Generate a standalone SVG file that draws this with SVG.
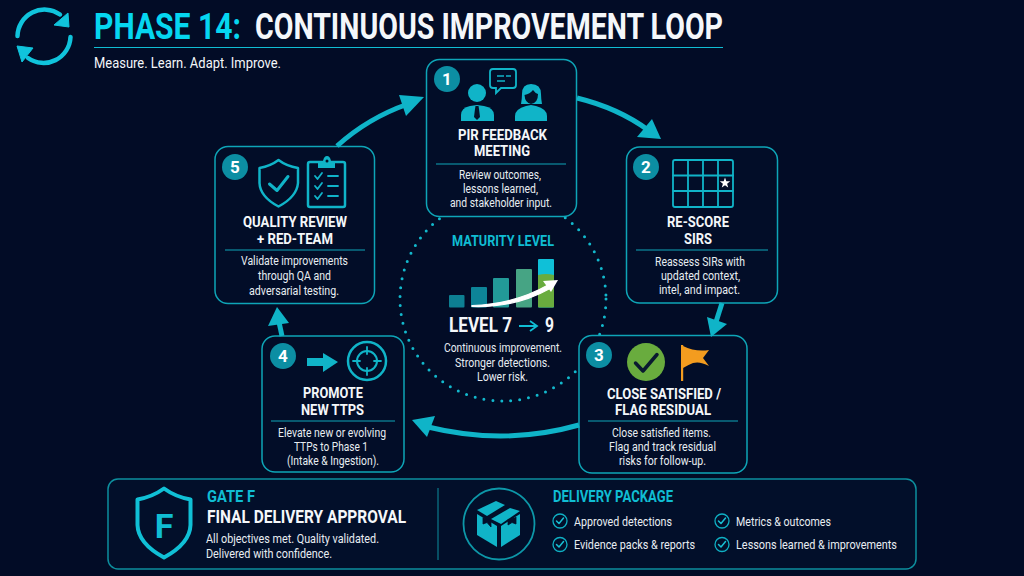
<svg xmlns="http://www.w3.org/2000/svg" width="1024" height="576" viewBox="0 0 1024 576">
<style>
text{font-family:Roboto,"Liberation Sans",sans-serif;fill:#f4f7fa}
.h{font-weight:700;font-size:15.5px}
.b{font-size:12.5px;fill:#e8edf2}
.c{fill:#10bdd3}
.card{fill:#020d28;stroke:#0ea5b7;stroke-width:1.5}
.rule{stroke:#0ea5b7;stroke-width:1.2}
.badge{fill:#0c8ea3}
.num{font-weight:700;font-size:17px;fill:#fff;text-anchor:middle}
.ic{fill:none;stroke:#10b4c8;stroke-width:2.5;stroke-linejoin:round;stroke-linecap:round}
.if{fill:#10b4c8}
.conn{fill:none;stroke:#0fb4c8;stroke-width:5}
.head{fill:#0fb4c8}
.ck{fill:none;stroke:#0fb0c4;stroke-width:1.3}
.ckm{fill:none;stroke:#18c0d4;stroke-width:1.5;stroke-linecap:round;stroke-linejoin:round}
.d{font-size:13px;fill:#e8edf2}
</style>
<rect width="1024" height="576" fill="#020c26"/>

<g id="header">
<g fill="none" stroke="#10c4dc" stroke-width="4.500" stroke-linecap="round">
<path d="M17.500 36A27 27 0 0 1 60 14.500"/>
<path d="M70.500 37A27 27 0 0 1 28 58"/>
</g>
<polygon points="68,13 69,27 54,25" fill="#10c4dc" stroke="#10c4dc" stroke-linejoin="round"/>
<polygon points="17,46 33,48 22,62" fill="#10c4dc" stroke="#10c4dc" stroke-linejoin="round"/>
<text x="94" y="39" font-size="36" font-weight="700" textLength="147" lengthAdjust="spacingAndGlyphs" style="fill:#05d6f0">PHASE 14:</text>
<text x="255" y="39" font-size="36" font-weight="700" textLength="468" lengthAdjust="spacingAndGlyphs">CONTINUOUS IMPROVEMENT LOOP</text>
<line x1="94" y1="47.500" x2="723" y2="47.500" stroke="#10bdd3" stroke-width="1"/>
<text x="94" y="68" font-size="15" textLength="187" lengthAdjust="spacingAndGlyphs">Measure. Learn. Adapt. Improve.</text>
</g>

<g id="maturity">
<ellipse cx="503" cy="299" rx="103" ry="102" fill="none" stroke="#12b8cc" stroke-width="3" stroke-linecap="round" stroke-dasharray="0 9"/>
<text class="c" x="452" y="246" font-size="15" font-weight="700" textLength="102" lengthAdjust="spacingAndGlyphs">MATURITY LEVEL</text>
<rect x="449" y="295" width="15.500" height="12.500" rx="1" fill="#0d7f92"/>
<rect x="471" y="287" width="16" height="20.500" rx="1" fill="#0d8498"/>
<rect x="493" y="278" width="16" height="29.500" rx="1" fill="#229a98"/>
<rect x="516" y="269" width="16" height="38.500" rx="1" fill="#46a484"/>
<rect x="538" y="259" width="16" height="48.500" rx="1" fill="#0fc0d8"/>
<path d="M538 275Q546 273 554 275V306.500a1 1 0 0 1-1 1H539a1 1 0 0 1-1-1Z" fill="#69ac3e"/>
<path d="M472 305.500Q515 304 548 285L549 289Q515 308 472 306.500Z" fill="#fff" stroke="#fff" stroke-width="1.200"/>
<polygon points="558,280 551,292 543,281" fill="#fff"/>
<text x="449" y="332" font-size="20" font-weight="700" textLength="63" lengthAdjust="spacingAndGlyphs">LEVEL 7</text>
<path d="M519 326H536M530 321L537 326L530 331" fill="none" stroke="#10bdd3" stroke-width="1.800"/>
<text x="545" y="332" font-size="20" font-weight="700" textLength="9" lengthAdjust="spacingAndGlyphs">9</text>
<text class="b" x="444" y="352" textLength="118" lengthAdjust="spacingAndGlyphs">Continuous improvement.</text>
<text class="b" x="455" y="367" textLength="95" lengthAdjust="spacingAndGlyphs">Stronger detections.</text>
<text class="b" x="477" y="381" textLength="51" lengthAdjust="spacingAndGlyphs">Lower risk.</text>
</g>

<g id="node1">
<rect class="card" x="426.500" y="59.500" width="150" height="157" rx="13"/>
<circle class="badge" cx="447" cy="79" r="13"/><text class="num" x="447" y="85">1</text>
<circle class="if" cx="477" cy="93" r="9"/>
<path class="if" d="M461 121V115Q461 108 470 106L477 105L484 106Q494 108 494 115V121Z"/>
<path d="M475.500 106H478.500L479 109L480 117L477 120L474 117L475 109Z" fill="#031228"/>
<path class="if" d="M521 104Q522 98 522 94Q522 84 531 84Q541 84 541 94Q541 98 542 104Z"/>
<path d="M524.500 95Q530 94 533 90Q535 93 538 94Q538 103 531 104Q525 103 524.500 95Z" fill="#031228"/>
<path class="if" d="M515 121V116Q515 109 526 106L531 105L536 106Q547 109 547 116V121Z"/>
<path d="M493 69H513Q516 69 516 72V85Q516 88 513 88H501L496 93V88H493Q490 88 490 85V72Q490 69 493 69Z" fill="none" stroke="#10b4c8" stroke-width="1.800"/>
<path d="M497 76H504M506 76H511M497 81H505" stroke="#10b4c8" stroke-width="1.500"/>
<text class="h" x="458" y="140" textLength="89" lengthAdjust="spacingAndGlyphs">PIR FEEDBACK</text>
<text class="h" x="474" y="156" textLength="56" lengthAdjust="spacingAndGlyphs">MEETING</text>
<line class="rule" x1="436" y1="164" x2="566" y2="164"/>
<text class="b" x="459" y="179" textLength="82" lengthAdjust="spacingAndGlyphs">Review outcomes,</text>
<text class="b" x="463" y="193" textLength="75" lengthAdjust="spacingAndGlyphs">lessons learned,</text>
<text class="b" x="450" y="207" textLength="102" lengthAdjust="spacingAndGlyphs">and stakeholder input.</text>
</g>

<g id="node2">
<rect class="card" x="626.500" y="147" width="151" height="156" rx="13"/>
<circle class="badge" cx="646" cy="167" r="13"/><text class="num" x="646" y="173">2</text>
<rect class="ic" x="673" y="160" width="60" height="47" rx="2" style="stroke-width:1.800"/>
<path class="ic" d="M688 160V207M703 160V207M718 160V207M673 175.500H733M673 191H733" style="stroke-width:1.800"/>
<polygon points="725,177.500 726.300,181.200 730.200,181.300 727.100,183.700 728.200,187.400 725,185.200 721.800,187.400 722.900,183.700 719.800,181.300 723.700,181.200" fill="#fff"/>
<text class="h" x="667" y="227" textLength="62" lengthAdjust="spacingAndGlyphs">RE-SCORE</text>
<text class="h" x="684" y="244" textLength="28" lengthAdjust="spacingAndGlyphs">SIRS</text>
<line class="rule" x1="636" y1="250" x2="768" y2="250"/>
<text class="b" x="655" y="266" textLength="90" lengthAdjust="spacingAndGlyphs">Reassess SIRs with</text>
<text class="b" x="661" y="280" textLength="79" lengthAdjust="spacingAndGlyphs">updated context,</text>
<text class="b" x="659" y="294" textLength="81" lengthAdjust="spacingAndGlyphs">intel, and impact.</text>
</g>

<g id="node3">
<rect class="card" x="579" y="335.500" width="168" height="137.500" rx="13"/>
<circle class="badge" cx="599" cy="355" r="13"/><text class="num" x="599" y="361">3</text>
<circle cx="646" cy="362" r="19" fill="#69ac3e"/>
<path d="M635.500 363L643 371L657 354.500" fill="none" stroke="#0a1a30" stroke-width="3.500" stroke-linecap="round" stroke-linejoin="round"/>
<rect x="681" y="345" width="2.200" height="36" fill="#f39c1f"/>
<path d="M683 346Q695 352 709 350L703 358L709 366Q700 361 693 363Q688 365 683 368Z" fill="#f39c1f"/>
<text class="h" x="607" y="399" textLength="114" lengthAdjust="spacingAndGlyphs">CLOSE SATISFIED /</text>
<text class="h" x="615" y="415" textLength="96" lengthAdjust="spacingAndGlyphs">FLAG RESIDUAL</text>
<line class="rule" x1="588" y1="421" x2="738" y2="421"/>
<text class="b" x="612" y="437" textLength="99" lengthAdjust="spacingAndGlyphs">Close satisfied items.</text>
<text class="b" x="609" y="451" textLength="107" lengthAdjust="spacingAndGlyphs">Flag and track residual</text>
<text class="b" x="619" y="465" textLength="87" lengthAdjust="spacingAndGlyphs">risks for follow-up.</text>
</g>

<g id="node4">
<rect class="card" x="262" y="336" width="142" height="136" rx="13"/>
<circle class="badge" cx="283" cy="356" r="13"/><text class="num" x="283" y="362">4</text>
<polygon class="if" points="307,358 323,358 323,353 338,362 323,372 323,366 307,366"/>
<circle class="ic" cx="367" cy="361" r="19"/>
<circle class="ic" cx="367" cy="361" r="10" style="stroke-width:2"/>
<path class="ic" d="M367 347V354M367 368V375M353 361H360M374 361H381" style="stroke-width:1.800"/>
<text class="h" x="303" y="398" textLength="60" lengthAdjust="spacingAndGlyphs">PROMOTE</text>
<text class="h" x="301" y="415" textLength="63" lengthAdjust="spacingAndGlyphs">NEW TTPS</text>
<line class="rule" x1="271" y1="421" x2="395" y2="421"/>
<text class="b" x="278" y="437" textLength="108" lengthAdjust="spacingAndGlyphs">Elevate new or evolving</text>
<text class="b" x="294" y="451" textLength="74" lengthAdjust="spacingAndGlyphs">TTPs to Phase 1</text>
<text class="b" x="287" y="465" textLength="92" lengthAdjust="spacingAndGlyphs">(Intake &amp; Ingestion).</text>
</g>

<g id="node5">
<rect class="card" x="215" y="146.500" width="159.500" height="157" rx="13"/>
<circle class="badge" cx="235" cy="167" r="13"/><text class="num" x="235" y="173">5</text>
<path class="ic" d="M278.500 160C272 165 265 167 259.500 168V183C260 195 270 202 278.500 206.500C287 202 297 195 298 183V168C292 167 285 165 278.500 160Z"/>
<path class="ic" d="M269.500 184L277 190.500L288 176.500" style="stroke-width:3"/>
<rect class="ic" x="308" y="162" width="37" height="45" rx="2"/>
<path class="if" d="M318 163Q318 161 321 161H323Q324 156 327 156Q330 156 331 161H333Q335 161 335 163V168H318Z"/>
<circle cx="327" cy="161" r="1.500" fill="#031228"/>
<path class="ic" d="M315 176L317.500 179L322 173M315 186L317.500 189L322 183M315 196L317.500 199L322 193M328 176H338M328 186H338M328 196H338" style="stroke-width:1.800"/>
<text class="h" x="243" y="227" textLength="104" lengthAdjust="spacingAndGlyphs">QUALITY REVIEW</text>
<text class="h" x="257" y="244" textLength="76" lengthAdjust="spacingAndGlyphs">+ RED-TEAM</text>
<line class="rule" x1="225" y1="250" x2="365" y2="250"/>
<text class="b" x="241" y="265" textLength="107" lengthAdjust="spacingAndGlyphs">Validate improvements</text>
<text class="b" x="258" y="280" textLength="73" lengthAdjust="spacingAndGlyphs">through QA and</text>
<text class="b" x="249" y="295" textLength="90" lengthAdjust="spacingAndGlyphs">adversarial testing.</text>
</g>

<g id="connectors">
<path class="conn" d="M337 146Q368 118 408 104"/>
<polygon class="head" points="424,97 399,95 406,116"/>
<path class="conn" d="M577 98Q618 108 648 130"/>
<polygon class="head" points="661,139 652,119 637,137"/>
<path class="conn" d="M722 303L716 322"/>
<polygon class="head" points="711,337 707,317 727,324"/>
<path class="conn" d="M579 425Q505 446 428 427"/>
<polygon class="head" points="412,420 435,416 427,437"/>
<path class="conn" d="M282 336L279 322"/>
<polygon class="head" points="277,307 268,326 289,323"/>
</g>

<g id="gate-panel">
<rect x="108" y="479" width="808" height="90" rx="10" fill="#020f2a" stroke="#0d8f9e" stroke-width="1.500"/>
<path d="M164 488.500C155 495 146 498 137.500 499.500V525C138 541 152 551 164 557.500C176 551 190 541 190.500 525V499.500C182 498 173 495 164 488.500Z" fill="none" stroke="#10c0d6" stroke-width="4" stroke-linejoin="round"/>
<text x="164" y="538" text-anchor="middle" font-size="34" font-weight="700" class="c">F</text>
<text class="c" x="207" y="502" font-size="16.500" font-weight="700" textLength="48" lengthAdjust="spacingAndGlyphs">GATE F</text>
<text x="207" y="523" font-size="18.500" font-weight="700" textLength="199" lengthAdjust="spacingAndGlyphs">FINAL DELIVERY APPROVAL</text>
<text x="206" y="543" font-size="13" textLength="173" lengthAdjust="spacingAndGlyphs" style="fill:#e8edf2">All objectives met. Quality validated.</text>
<text x="206" y="558" font-size="13" textLength="126" lengthAdjust="spacingAndGlyphs" style="fill:#e8edf2">Delivered with confidence.</text>
<line x1="438" y1="488" x2="438" y2="560" stroke="#0d8f9e" stroke-width="1"/>
</g>

<g id="delivery-package">
<circle cx="499" cy="524" r="35.500" fill="none" stroke="#0d97a8" stroke-width="1.800"/>
<g class="if">
<polygon points="477,514 497,526 497,547 477,535"/>
<polygon points="501,526 520,514 520,535 501,547"/>
<polygon points="477,510 496,501 505,505 487,516"/>
<polygon points="491,519 510,508 520,511 501,524"/>
</g>
<path d="M483 517.500V524L487 522.500L491 527V520.500M508 519.500V525L512 522.500L516 524V517" fill="#020f2a" stroke="#020f2a" stroke-width="0.800"/>
<text class="c" x="553" y="502" font-size="16" font-weight="700" textLength="120" lengthAdjust="spacingAndGlyphs">DELIVERY PACKAGE</text>
<circle class="ck" cx="560" cy="521" r="7"/><path class="ckm" d="M556.500 521L559 523.500L563.500 518"/>
<circle class="ck" cx="560" cy="544.500" r="7"/><path class="ckm" d="M556.500 544.500L559 547L563.500 541.500"/>
<circle class="ck" cx="722" cy="521" r="7"/><path class="ckm" d="M718.500 521L721 523.500L725.500 518"/>
<circle class="ck" cx="722" cy="544.500" r="7"/><path class="ckm" d="M718.500 544.500L721 547L725.500 541.500"/>
<text class="d" x="574" y="525.500" textLength="98" lengthAdjust="spacingAndGlyphs">Approved detections</text>
<text class="d" x="574" y="549" textLength="121" lengthAdjust="spacingAndGlyphs">Evidence packs &amp; reports</text>
<text class="d" x="736" y="525.500" textLength="95" lengthAdjust="spacingAndGlyphs">Metrics &amp; outcomes</text>
<text class="d" x="736" y="549" textLength="161" lengthAdjust="spacingAndGlyphs">Lessons learned &amp; improvements</text>
</g>
</svg>
